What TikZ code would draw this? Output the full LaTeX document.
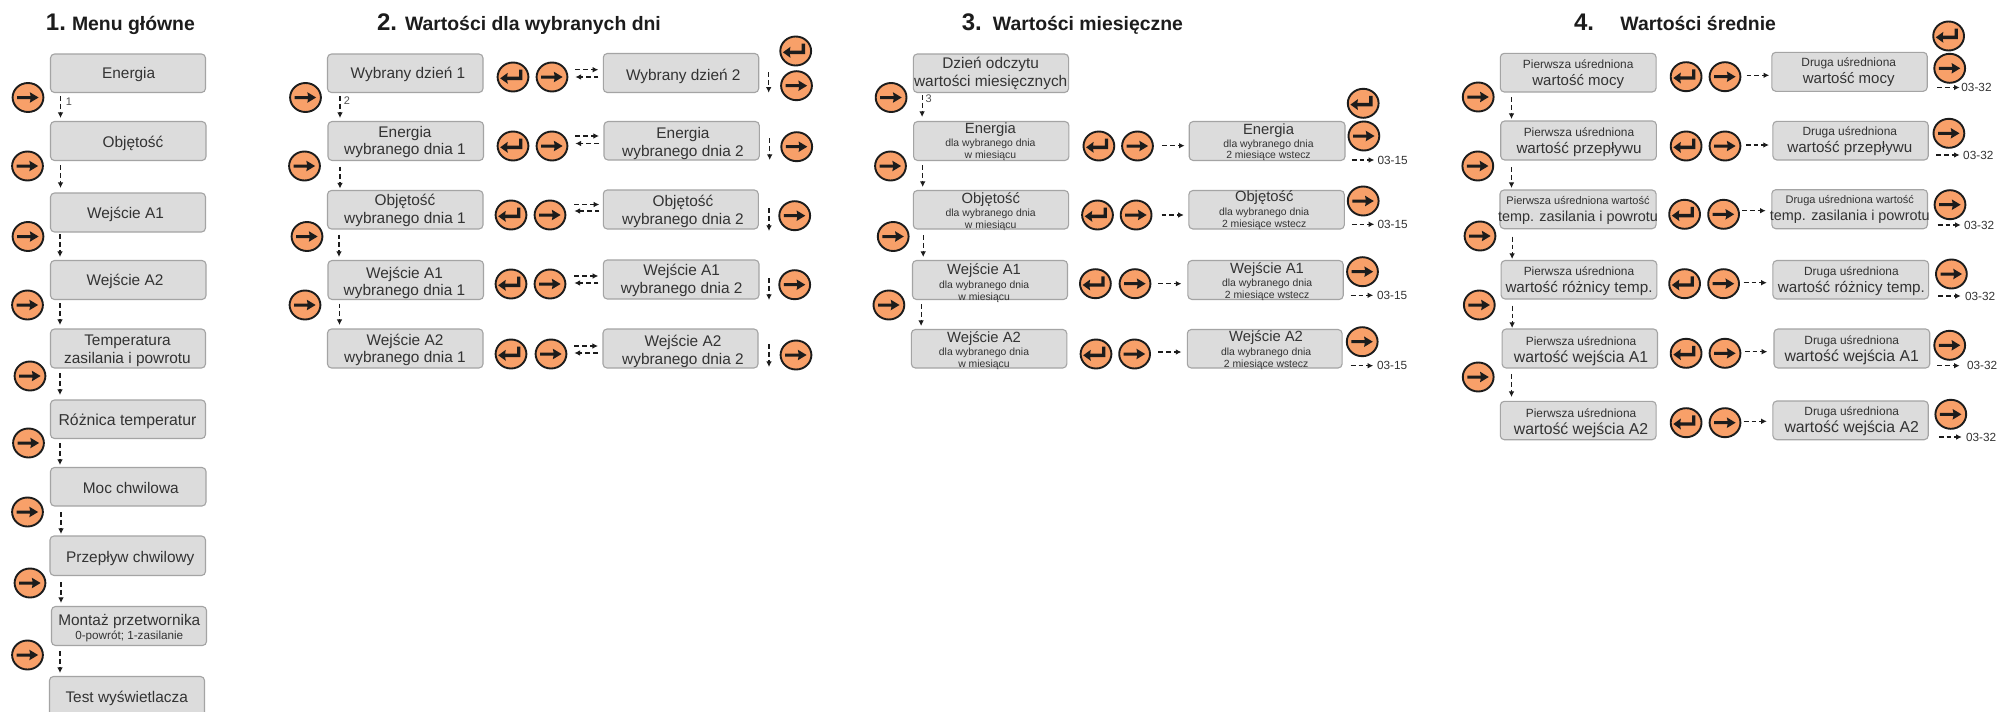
\documentclass[tikz,border=0pt]{standalone}
\usepackage{fontspec}
\setmainfont{Liberation Sans}
\usetikzlibrary{arrows.meta,shapes.geometric}
\definecolor{boxfill}{HTML}{DCDCDC}
\definecolor{boxedge}{HTML}{A4A4A4}
\definecolor{btnfill}{HTML}{F8A069}
\definecolor{ink}{HTML}{1C1C1C}
\definecolor{txt}{HTML}{333333}
\tikzset{
  boxn/.style={draw=boxedge,fill=boxfill,rounded corners=2pt,line width=.55pt,inner sep=0pt,outer sep=0pt},
  btn/.style={ellipse,draw=ink,fill=btnfill,line width=.95pt,minimum width=15.4pt,minimum height=14.5pt,inner sep=0pt,outer sep=0pt},
  boxt/.style={anchor=south,inner sep=0pt,outer sep=0pt,text=txt},
  ttl/.style={anchor=base west,inner sep=0pt,outer sep=0pt,text=ink,font=\bfseries\fontsize{9.7}{11}\selectfont},
  ttn/.style={anchor=base west,inner sep=0pt,outer sep=0pt,text=ink,font=\bfseries\fontsize{12}{14}\selectfont},
  outt/.style={anchor=west,inner sep=0pt,outer sep=0pt,text=txt,font=\fontsize{5.9}{6}\selectfont},
  numt/.style={inner sep=0pt,outer sep=0pt,text=txt!85,font=\fontsize{5.5}{6}\selectfont},
  dar/.style={draw=ink,line width=.55pt,dash pattern=on 2.4pt off 1.5pt,-{Latex[length=2.8pt,width=2.8pt]}},
}
\newcommand\LL[3]{\vrule height #2pt depth 0pt width 0pt\fontsize{#1}{#1}\selectfont\smash{#3}\cr}
\newcommand\stk[1]{\vbox{\offinterlineskip\halign{\hfil##\hfil\cr #1}}}
% name x0 y0 x1 y1 textx lastbaseline lines
\newcommand\bx[8]{%
  \pgfmathsetlengthmacro\bw{(#4-#2)*0.5pt}\pgfmathsetlengthmacro\bh{(#5-#3)*0.5pt}%
  \node[boxn,minimum width=\bw,minimum height=\bh] (#1) at ({(#2+#4)/2},{(#3+#5)/2}) {};
  \node[boxt] (#1-t) at (#6,#7) {\stk{#8}};}
\newcommand\icoR{\fill[ink] (-10.9,-1.5) -- (2.6,-1.5) -- (1.8,-5.3) -- (10.6,0) -- (1.8,5.3) -- (2.6,1.5) -- (-10.9,1.5) -- cycle;}
\newcommand\icoE{\fill[ink] (-12.8,1.3) -- (-5.2,-4.2) -- (-5.9,-.4) -- (6,-.4) -- (6,-7.4) -- (9.3,-7.4) -- (9.3,3) -- (-5.9,3) -- (-5.2,6.8) -- cycle;}
\newcommand\btn[4]{\node[btn] (#1) at (#3,#4) {};
  \begin{scope}[shift={(#3,#4)}]\csname ico#2\endcsname\end{scope}}
\newcount\cc
% vertical connector between two boxes: from to x gap1 gap2 (px)
\newcommand\vd[5]{\global\advance\cc by 1
  \coordinate (X\the\cc) at (#3,0);
  \draw[dar,shorten <=#4*0.5pt,shorten >=#5*0.5pt] (#1.south -| X\the\cc) -- (#2.north -| X\the\cc);}
% horizontal connector: from to y gap1 gap2 side1 side2
\newcommand\hd[7]{\global\advance\cc by 1
  \coordinate (Y\the\cc) at (0,#3);
  \draw[dar,shorten <=#4*0.5pt,shorten >=#5*0.5pt] (#1.#6 |- Y\the\cc) -- (#2.#7 |- Y\the\cc);}
\newcommand\fr[3]{\global\advance\cc by 1
  \coordinate (Fa\the\cc) at (#1,#2);\coordinate (Fb\the\cc) at (#1,#3);
  \draw[dar] (Fa\the\cc) -- (Fb\the\cc);}
% output: x0 x1 y textx text
\newcommand\ot[5]{\global\advance\cc by 1
  \coordinate (Oa\the\cc) at (#1,#3);
  \node[outt] (Ot\the\cc) at (#4,#3) {#5};
  \pgfmathsetmacro\og{#4-#2}
  \draw[dar,shorten >=\og*0.5pt] (Oa\the\cc) -- (Ot\the\cc.west |- Oa\the\cc);}
\begin{document}
\begin{tikzpicture}[x=0.5pt,y=-0.5pt]
\useasboundingbox (0,0) rectangle (1999,712);
\fill[white] (0,0) rectangle (1999,712);
\def\a{7.7}\def\ld{8.75}
% titles
\node[ttn] (t1n) at (46,30.7) {1.};
\node[ttl] (t1) at (72,30.7) {Menu główne};
\node[ttn] (t2n) at (377,30.7) {2.};
\node[ttl] (t2) at (405,30.7) {Wartości dla wybranych dni};
\node[ttn] (t3n) at (961.8,30.7) {3.};
\node[ttl] (t3) at (992.9,30.7) {Wartości miesięczne};
\node[ttn] (t4n) at (1574,30.7) {4.};
\node[ttl] (t4) at (1620.4,30.7) {Wartości średnie};
% ---- column 1
\bx{a1}{50.5}{54}{205.5}{92.5}{128.7}{78.7}{\LL{\a}{8}{Energia}}
\bx{a2}{50.5}{121.5}{206}{160.5}{133}{147}{\LL{\a}{8}{Objętość}}
\bx{a3}{50.5}{193}{205.5}{232}{125.5}{218.7}{\LL{\a}{8}{Wejście A1}}
\bx{a4}{50.5}{260.5}{206}{299.5}{125}{285.3}{\LL{\a}{8}{Wejście A2}}
\bx{a5}{50.5}{329}{205.5}{368}{127.5}{363.3}{\LL{\a}{8}{Temperatura}\LL{\a}{\ld}{zasilania i powrotu}}
\bx{a6}{50.5}{400}{205.5}{438.5}{127.5}{425.3}{\LL{7.9}{8}{Różnica temperatur}}
\bx{a7}{50.5}{467.5}{206}{506}{130.8}{493.3}{\LL{\a}{8}{Moc chwilowa}}
\bx{a8}{50}{536}{205.5}{575.5}{130.3}{562}{\LL{\a}{8}{Przepływ chwilowy}}
\bx{a9}{51.5}{606.5}{206.5}{645.5}{129.3}{639.3}{\LL{\a}{8}{Montaż przetwornika}\LL{5.85}{6.8}{0-powrót; 1-zasilanie}}
\bx{a10}{49.5}{676.5}{204.5}{716}{126.7}{702}{\LL{\a}{8}{Test wyświetlacza}}
\btn{ab1}{R}{28}{97.5}\btn{ab2}{R}{27.5}{166}\btn{ab3}{R}{28}{236.5}\btn{ab4}{R}{27.5}{305}
\btn{ab5}{R}{30}{376}\btn{ab6}{R}{28.5}{443}\btn{ab7}{R}{27.5}{512}\btn{ab8}{R}{30}{583}\btn{ab9}{R}{27.5}{655}
\vd{a1}{a2}{60.5}{3.5}{3.5}\vd{a2}{a3}{60.5}{4.5}{5}\vd{a3}{a4}{60}{2}{3.5}\vd{a4}{a5}{60}{3.5}{4}
\vd{a5}{a6}{60}{5}{5}\vd{a6}{a7}{60}{4.5}{2.5}\vd{a7}{a8}{61}{6}{2}\vd{a8}{a9}{61}{6.5}{3.5}\vd{a9}{a10}{60}{5.5}{3.5}
\node[numt] (n1) at (69,102) {1};
% ---- column 2 left
\bx{b1}{327.5}{54}{483}{92.5}{408}{78.7}{\LL{\a}{8}{Wybrany dzień 1}}
\bx{b2}{328}{121.5}{483.5}{160.5}{405}{154.7}{\LL{\a}{8}{Energia}\LL{\a}{\ld}{wybranego dnia 1}}
\bx{b3}{327.5}{190.5}{483}{229}{405}{223.3}{\LL{\a}{8}{Objętość}\LL{\a}{\ld}{wybranego dnia 1}}
\bx{b4}{328}{260.5}{483.5}{299.5}{404.5}{295.7}{\LL{\a}{8}{Wejście A1}\LL{\a}{\ld}{wybranego dnia 1}}
\bx{b5}{327.5}{329}{483}{368}{405}{362.5}{\LL{\a}{8}{Wejście A2}\LL{\a}{\ld}{wybranego dnia 1}}
\btn{bb1}{R}{305.5}{97.5}\btn{bb2}{R}{304.5}{166}\btn{bb3}{R}{307}{236.5}\btn{bb4}{R}{305}{305}
\vd{b1}{b2}{340}{3.5}{3.5}\vd{b2}{b3}{340}{6}{2}\vd{b3}{b4}{339}{5.5}{3.5}\vd{b4}{b5}{339.5}{4}{4}
\node[numt] (n2) at (347,101) {2};
% ---- column 2 right
\bx{c1}{603.3}{53.5}{758.7}{92.5}{683.3}{80}{\LL{\a}{8}{Wybrany dzień 2}}
\bx{c2}{604}{121.5}{759.3}{160}{683}{156}{\LL{\a}{8}{Energia}\LL{\a}{\ld}{wybranego dnia 2}}
\bx{c3}{603.3}{190}{758.3}{229}{683}{224}{\LL{\a}{8}{Objętość}\LL{\a}{\ld}{wybranego dnia 2}}
\bx{c4}{603.3}{260}{759}{299}{681.7}{293.3}{\LL{\a}{8}{Wejście A1}\LL{\a}{\ld}{wybranego dnia 2}}
\bx{c5}{603}{329}{758}{368}{683}{364}{\LL{\a}{8}{Wejście A2}\LL{\a}{\ld}{wybranego dnia 2}}
\btn{be1}{E}{513}{77}\btn{br1}{R}{552}{77}
\btn{be2}{E}{513}{146}\btn{br2}{R}{552}{146}
\btn{be3}{E}{511}{215}\btn{br3}{R}{550}{215}
\btn{be4}{E}{511}{284}\btn{br4}{R}{550}{284}
\btn{be5}{E}{511}{354}\btn{br5}{R}{551}{354}
\hd{br1}{c1}{69.7}{8}{5}{east}{west}\hd{c1}{br1}{77}{5}{8}{west}{east}
\hd{br2}{c2}{136}{8}{5}{east}{west}\hd{c2}{br2}{143.5}{5}{8}{west}{east}
\hd{br3}{c3}{204.5}{9}{4}{east}{west}\hd{c3}{br3}{211}{4}{9}{west}{east}
\hd{br4}{c4}{276}{9}{5}{east}{west}\hd{c4}{br4}{283}{5}{9}{west}{east}
\hd{br5}{c5}{346}{8}{5}{east}{west}\hd{c5}{br5}{353}{5}{8}{west}{east}
\fr{768.7}{72}{92.7}\fr{769.7}{138}{160}\fr{769}{208}{231}\fr{769}{278}{300}\fr{769}{344}{367}
\btn{bz}{E}{795.7}{51}\btn{bq1}{R}{796.5}{85.7}\btn{bq2}{R}{796.7}{146.7}\btn{bq3}{R}{794.7}{215.7}\btn{bq4}{R}{794.7}{284.7}\btn{bq5}{R}{796}{355}
% ---- column 3 left
\def\s{5.2}\def\m{7.4}
\bx{d1}{913.3}{54}{1068.6}{92.5}{990.7}{86.3}{\LL{7.7}{8}{Dzień odczytu}\LL{7.7}{8.65}{wartości miesięcznych}}
\bx{d2}{913.6}{121.5}{1068.9}{160.5}{990.4}{158}{\LL{\m}{8}{Energia}\LL{\s}{6.7}{dla wybranego dnia}\LL{\s}{5.65}{w miesiącu}}
\bx{d3}{913.3}{190.5}{1068.6}{229}{990.7}{228}{\LL{\m}{8}{Objętość}\LL{\s}{6.7}{dla wybranego dnia}\LL{\s}{5.65}{w miesiącu}}
\bx{d4}{912.5}{260.5}{1067.5}{299.5}{984.1}{300}{\LL{\m}{8}{Wejście A1}\LL{\s}{6.9}{dla wybranego dnia}\LL{\s}{5.75}{w miesiącu}}
\bx{d5}{911.4}{329.5}{1066.8}{368}{984}{367.5}{\LL{\m}{8}{Wejście A2}\LL{\s}{6.7}{dla wybranego dnia}\LL{\s}{5.9}{w miesiącu}}
\btn{db1}{R}{891.1}{97.5}\btn{db2}{R}{890.5}{166}\btn{db3}{R}{893.2}{236.5}\btn{db4}{R}{888.9}{305}
\vd{d1}{d2}{922.1}{2.5}{4.5}\vd{d2}{d3}{922.7}{4.5}{3.5}\vd{d3}{d4}{923.2}{6}{3.5}\vd{d4}{d5}{921.1}{4.5}{3.5}
\node[numt] (n3) at (928.6,99) {3};
% ---- column 3 right
\bx{e2}{1189.2}{121.5}{1345}{160.5}{1268.5}{158.7}{\LL{\m}{8}{Energia}\LL{\s}{6.7}{dla wybranego dnia}\LL{\s}{5.65}{2 miesiące wstecz}}
\bx{e3}{1188.9}{190.5}{1344.3}{229}{1264.2}{227}{\LL{\m}{8}{Objętość}\LL{\s}{6.9}{dla wybranego dnia}\LL{\s}{5.9}{2 miesiące wstecz}}
\bx{e4}{1187.9}{260.5}{1343.2}{299.5}{1267.1}{298.7}{\LL{\m}{8}{Wejście A1}\LL{\s}{6.9}{dla wybranego dnia}\LL{\s}{5.9}{2 miesiące wstecz}}
\bx{e5}{1187.3}{329.5}{1342.1}{368}{1266.1}{367}{\LL{\m}{8}{Wejście A2}\LL{\s}{6.7}{dla wybranego dnia}\LL{\s}{5.9}{2 miesiące wstecz}}
\btn{de2}{E}{1098.9}{146}\btn{dr2}{R}{1137.5}{146}
\btn{de3}{E}{1097.5}{215}\btn{dr3}{R}{1136.1}{215}
\btn{de4}{E}{1095.4}{283.7}\btn{dr4}{R}{1135}{283.7}
\btn{de5}{E}{1096}{354}\btn{dr5}{R}{1134.6}{354}
\hd{dr2}{e2}{145.7}{9.5}{4.6}{east}{west}
\hd{dr3}{e3}{215}{10}{5.1}{east}{west}
\hd{dr4}{e4}{283.7}{8}{6.5}{east}{west}
\hd{dr5}{e5}{352}{8.4}{5.9}{east}{west}
\btn{dz}{E}{1363.2}{103.3}\btn{dq2}{R}{1363.9}{136}\btn{dq3}{R}{1363.2}{201}\btn{dq4}{R}{1362.5}{271.7}\btn{dq5}{R}{1362.2}{341.7}
\ot{1351.8}{1374.3}{160}{1377.5}{03-15}
\ot{1351.8}{1374.3}{224.3}{1377.5}{03-15}
\ot{1350.7}{1373.2}{295.3}{1377}{03-15}
\ot{1350.7}{1373.2}{365.7}{1377}{03-15}
% ---- column 4 left
\def\q{5.95}\def\w{7.9}
\bx{f1}{1500.3}{53.3}{1656.1}{92}{1578.2}{85.3}{\LL{\q}{8}{Pierwsza uśredniona}\LL{7.5}{8.5}{wartość mocy}}
\bx{f2}{1500.7}{121}{1656.4}{160}{1579}{153.3}{\LL{\q}{8}{Pierwsza uśredniona}\LL{7.6}{8.5}{wartość przepływu}}
\bx{f3}{1500}{190}{1656.1}{228.7}{1578}{221}{\LL{5.5}{8}{Pierwsza uśredniona wartość}\LL{7.2}{8.5}{temp. zasilania i powrotu}}
\bx{f4}{1501.1}{260.5}{1656.8}{299}{1579}{292.3}{\LL{\q}{8}{Pierwsza uśredniona}\LL{7.6}{8.5}{wartość różnicy temp.}}
\bx{f5}{1502.1}{329}{1657.5}{368}{1581.1}{362.7}{\LL{\q}{8}{Pierwsza uśredniona}\LL{\w}{8.5}{wartość wejścia A1}}
\bx{f6}{1500.3}{401.3}{1656.1}{439.7}{1581.1}{434}{\LL{\q}{8}{Pierwsza uśredniona}\LL{\w}{8.5}{wartość wejścia A2}}
\btn{fb1}{R}{1478.2}{97}\btn{fb2}{R}{1477.8}{166}\btn{fb3}{R}{1480}{236}\btn{fb4}{R}{1479.3}{305}\btn{fb5}{R}{1478.2}{377}
\vd{f1}{f2}{1511.5}{5}{2}\vd{f2}{f3}{1511.5}{7}{2}\vd{f3}{f4}{1512.1}{8}{1.5}\vd{f4}{f5}{1512.1}{6.7}{1}\vd{f5}{f6}{1511.5}{6}{4.3}
% ---- column 4 right
\bx{g1}{1771.8}{52.3}{1927.2}{91.3}{1848.7}{83.3}{\LL{\q}{8}{Druga uśredniona}\LL{7.5}{8.5}{wartość mocy}}
\bx{g2}{1772.9}{121.3}{1928.2}{160}{1849.8}{152}{\LL{\q}{8}{Druga uśredniona}\LL{7.6}{8.5}{wartość przepływu}}
\bx{g3}{1771.8}{189.7}{1927.5}{228.7}{1849.8}{220.3}{\LL{5.5}{8}{Druga uśredniona wartość}\LL{7.2}{8.5}{temp. zasilania i powrotu}}
\bx{g4}{1772.9}{260.5}{1928.6}{299}{1851.4}{292.3}{\LL{\q}{8}{Druga uśredniona}\LL{7.6}{8.5}{wartość różnicy temp.}}
\bx{g5}{1774}{329}{1929.7}{368}{1851.7}{361.3}{\LL{\q}{8}{Druga uśredniona}\LL{\w}{8.5}{wartość wejścia A1}}
\bx{g6}{1772.9}{401}{1928.2}{439.7}{1851.7}{432.3}{\LL{\q}{8}{Druga uśredniona}\LL{\w}{8.5}{wartość wejścia A2}}
\btn{fe1}{E}{1686.1}{76.7}\btn{fr1}{R}{1725}{76.7}
\btn{fe2}{E}{1686.1}{146}\btn{fr2}{R}{1725}{146}
\btn{fe3}{E}{1684.6}{214.3}\btn{fr3}{R}{1723.6}{214.3}
\btn{fe4}{E}{1684.6}{283.7}\btn{fr4}{R}{1723.6}{283.7}
\btn{fe5}{E}{1686.1}{353.3}\btn{fr5}{R}{1725}{353.3}
\btn{fe6}{E}{1686.1}{422.7}\btn{fr6}{R}{1725}{422.7}
\hd{fr1}{g1}{75.3}{6.2}{2.6}{east}{west}
\hd{fr2}{g2}{145}{5.4}{4}{east}{west}
\hd{fr3}{g3}{210.7}{3.1}{6.1}{east}{west}
\hd{fr4}{g4}{282.7}{4.7}{6.1}{east}{west}
\hd{fr5}{g5}{351.7}{4.4}{6.7}{east}{west}
\hd{fr6}{g6}{421.3}{3.3}{6.1}{east}{west}
\btn{gz}{E}{1948.6}{36}\btn{gq1}{R}{1949.7}{68.3}\btn{gq2}{R}{1948.9}{133.3}\btn{gq3}{R}{1950}{204.7}\btn{gq4}{R}{1951.4}{274}\btn{gq5}{R}{1949.7}{345.3}\btn{gq6}{R}{1950.8}{414.3}
\ot{1937.1}{1959.6}{87.5}{1961.4}{03-32}
\ot{1936}{1959.6}{155}{1963.2}{03-32}
\ot{1937.7}{1960.7}{225}{1964}{03-32}
\ot{1938.2}{1960.7}{296}{1965}{03-32}
\ot{1937.1}{1959.6}{365.7}{1967.1}{03-32}
\ot{1938.8}{1961.8}{437}{1966}{03-32}
\end{tikzpicture}
\end{document}
